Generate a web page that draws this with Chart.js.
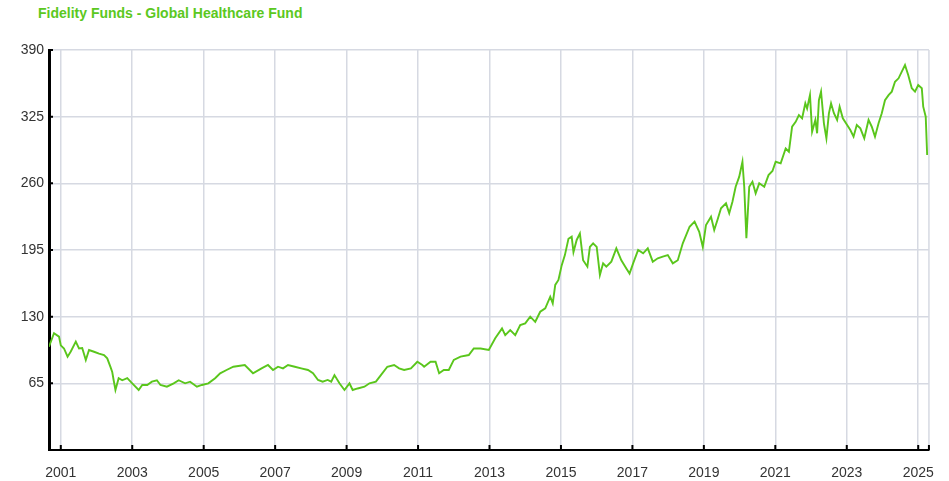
<!DOCTYPE html>
<html>
<head>
<meta charset="utf-8">
<title>Fidelity Funds - Global Healthcare Fund</title>
<script src="https://cdn.jsdelivr.net/npm/chart.js@4.4.1/dist/chart.umd.min.js"></script>
<style>
  html, body { margin: 0; padding: 0; background: #fff; }
  #wrap { position: relative; width: 949px; height: 481px; }
  #title {
    position: absolute; left: 38px; top: 5px;
    font: bold 14px "Liberation Sans", Arial, sans-serif;
    color: #5bc821;
  }
  canvas { position: absolute; left: 0; top: 0; }
</style>
</head>
<body>
<div id="wrap">
  <div id="title">Fidelity Funds - Global Healthcare Fund</div>
  <canvas id="fundChart" width="949" height="481"></canvas>
</div>
<script>
// price history (decimal years)
const navDates = [
  2000.67, 2000.81, 2000.95, 2001.00, 2001.09, 2001.19, 2001.28, 2001.42, 2001.51, 2001.60,
  2001.70, 2001.79, 2001.93, 2002.07, 2002.21, 2002.30, 2002.39, 2002.44, 2002.48, 2002.53,
  2002.62, 2002.72, 2002.86, 2003.00, 2003.18, 2003.28, 2003.42, 2003.55, 2003.69, 2003.79,
  2003.97, 2004.16, 2004.30, 2004.48, 2004.62, 2004.81, 2004.95, 2005.13, 2005.32, 2005.46,
  2005.64, 2005.83, 2006.15, 2006.38, 2006.62, 2006.80, 2006.94, 2007.08, 2007.22, 2007.36,
  2007.55, 2007.73, 2007.92, 2008.06, 2008.20, 2008.33, 2008.47, 2008.57, 2008.66, 2008.80,
  2008.94, 2009.08, 2009.17, 2009.31, 2009.50, 2009.64, 2009.82, 2009.96, 2010.14, 2010.33,
  2010.47, 2010.61, 2010.80, 2010.98, 2011.12, 2011.17, 2011.35, 2011.49, 2011.59, 2011.72,
  2011.86, 2012.00, 2012.19, 2012.42, 2012.56, 2012.75, 2012.98, 2013.16, 2013.35, 2013.44,
  2013.58, 2013.72, 2013.86, 2014.00, 2014.14, 2014.28, 2014.42, 2014.56, 2014.70, 2014.77,
  2014.84, 2014.93, 2015.02, 2015.11, 2015.21, 2015.30, 2015.35, 2015.44, 2015.53, 2015.62,
  2015.74, 2015.81, 2015.90, 2016.00, 2016.09, 2016.18, 2016.27, 2016.41, 2016.55, 2016.69,
  2016.83, 2016.92, 2017.02, 2017.16, 2017.30, 2017.43, 2017.57, 2017.71, 2017.85, 2017.99,
  2018.13, 2018.27, 2018.41, 2018.60, 2018.74, 2018.87, 2018.97, 2019.06, 2019.20, 2019.29,
  2019.38, 2019.48, 2019.62, 2019.71, 2019.80, 2019.89, 2019.99, 2020.08, 2020.13, 2020.19,
  2020.27, 2020.36, 2020.45, 2020.55, 2020.69, 2020.81, 2020.92, 2021.01, 2021.15, 2021.29,
  2021.38, 2021.47, 2021.57, 2021.66, 2021.75, 2021.84, 2021.89, 2021.97, 2022.03, 2022.12,
  2022.17, 2022.22, 2022.28, 2022.36, 2022.43, 2022.50, 2022.56, 2022.64, 2022.73, 2022.80,
  2022.89, 2023.01, 2023.10, 2023.19, 2023.28, 2023.38, 2023.49, 2023.61, 2023.70, 2023.79,
  2023.89, 2023.98, 2024.07, 2024.17, 2024.26, 2024.35, 2024.45, 2024.54, 2024.63, 2024.72,
  2024.82, 2024.91, 2025.00, 2025.10, 2025.14, 2025.21, 2025.25
];
const navValues = [
  100.7, 113.8, 110.5, 102.0, 99.0, 91.0, 96.0, 105.6, 99.0, 99.5,
  87.8, 97.5, 95.8, 94.0, 92.6, 89.4, 81.0, 76.0, 68.0, 58.5,
  70.0, 68.0, 70.0, 65.0, 58.5, 63.4, 63.4, 66.6, 68.0, 63.4,
  61.7, 65.0, 68.0, 65.0, 66.6, 61.7, 63.4, 65.0, 70.0, 74.8,
  78.0, 81.2, 82.9, 74.8, 79.6, 82.9, 78.0, 81.2, 79.6, 82.9,
  81.2, 79.6, 78.0, 74.8, 68.3, 66.6, 68.3, 66.6, 73.0, 65.0,
  58.5, 65.0, 58.5, 60.0, 61.7, 65.0, 66.6, 73.0, 81.2, 82.9,
  79.6, 78.0, 79.6, 86.0, 82.9, 81.2, 86.0, 86.0, 74.8, 78.0,
  78.0, 87.8, 91.0, 92.6, 99.0, 99.0, 97.5, 108.9, 118.6, 112.0,
  117.0, 112.0, 121.9, 123.5, 130.0, 125.0, 134.8, 138.2, 149.5, 143.0,
  161.0, 165.8, 180.0, 190.0, 206.0, 208.0, 193.0, 204.8, 211.0, 185.0,
  178.7, 198.0, 201.5, 198.0, 170.6, 182.0, 178.7, 183.6, 196.6, 185.0,
  177.0, 172.0, 182.0, 195.0, 191.8, 196.6, 183.6, 186.9, 188.5, 190.0,
  182.0, 185.0, 201.5, 217.7, 222.6, 212.8, 198.0, 219.4, 227.5, 214.5,
  224.3, 235.7, 240.5, 230.8, 242.0, 256.7, 266.5, 281.0, 256.7, 206.4,
  256.7, 261.6, 250.3, 260.0, 256.7, 268.0, 272.0, 281.0, 279.5, 294.0,
  290.8, 315.2, 320.0, 326.6, 323.4, 338.0, 333.0, 346.0, 310.4, 321.8,
  308.8, 341.0, 349.4, 318.5, 303.9, 328.3, 338.0, 328.3, 321.8, 334.7,
  323.4, 316.9, 312.0, 305.5, 316.9, 313.6, 303.9, 321.8, 315.2, 305.5,
  318.5, 328.3, 341.0, 346.0, 349.4, 359.0, 362.4, 368.9, 375.4, 365.6,
  352.7, 349.4, 355.9, 352.7, 334.7, 325.0, 287.6
];

const xTickYears = [2001, 2003, 2005, 2007, 2009, 2011, 2013, 2015, 2017, 2019, 2021, 2023, 2025];
const yTickValues = [0, 65, 130, 195, 260, 325, 390];

const lineGreen = '#5ac61c';
const gridGrey = '#d6d9e2';
const labelFont = { family: '"Liberation Sans", Arial, sans-serif', size: 14 };

// short black ticks pointing into the plot, plus the light right-hand frame
const innerTicks = {
  id: 'innerTicks',
  afterDraw(chart) {
    const ctx = chart.ctx;
    const area = chart.chartArea;
    const xs = chart.scales.x;
    const ys = chart.scales.y;
    ctx.save();
    ctx.strokeStyle = gridGrey;
    ctx.lineWidth = 1.5;
    ctx.beginPath();
    ctx.moveTo(area.right, area.top);
    ctx.lineTo(area.right, area.bottom);
    ctx.stroke();
    ctx.strokeStyle = '#000';
    ctx.lineWidth = 2;
    ctx.beginPath();
    yTickValues.forEach(v => {
      const py = ys.getPixelForValue(v);
      ctx.moveTo(area.left, py);
      ctx.lineTo(area.left + 4, py);
    });
    xTickYears.forEach(v => {
      const px = xs.getPixelForValue(v);
      ctx.moveTo(px, area.bottom);
      ctx.lineTo(px, area.bottom - 5);
    });
    ctx.moveTo(area.right, area.bottom);
    ctx.lineTo(area.right, area.bottom - 5);
    ctx.stroke();
    ctx.restore();
  }
};

const ctx = document.getElementById('fundChart').getContext('2d');

const fundChart = new Chart(ctx, {
  type: 'line',
  data: {
    datasets: [{
      label: 'Global Healthcare Fund',
      data: navDates.map((d, i) => ({ x: d, y: navValues[i] })),
      borderColor: lineGreen,
      borderWidth: 1.9,
      pointRadius: 0,
      tension: 0,
      fill: false
    }]
  },
  options: {
    responsive: false,
    animation: false,
    devicePixelRatio: 1,
    layout: { padding: { top: 50, right: 17, bottom: 0, left: 0 } },
    plugins: {
      legend: { display: false },
      tooltip: { enabled: false },
      title: { display: false }
    },
    scales: {
      x: {
        type: 'linear',
        min: 2000.67,
        max: 2025.3,
        afterBuildTicks: scale => {
          scale.ticks = xTickYears.map(v => ({ value: v }));
        },
        afterFit: scale => { scale.height = 31; },
        ticks: {
          callback: v => String(v),
          color: '#333',
          font: labelFont,
          padding: 15,
          maxRotation: 0,
          autoSkip: false
        },
        grid: { color: gridGrey, lineWidth: 1.5, drawTicks: false },
        border: { color: '#000', width: 2 }
      },
      y: {
        min: 0,
        max: 390,
        afterBuildTicks: scale => {
          scale.ticks = yTickValues.map(v => ({ value: v }));
        },
        afterFit: scale => { scale.width = 49; },
        ticks: {
          callback: v => (v === 0 ? '' : String(v)),
          color: '#333',
          font: labelFont,
          padding: 5
        },
        grid: { color: gridGrey, lineWidth: 1.5, drawTicks: false },
        border: { color: '#000', width: 3 }
      }
    }
  },
  plugins: [innerTicks]
});
</script>
</body>
</html>
